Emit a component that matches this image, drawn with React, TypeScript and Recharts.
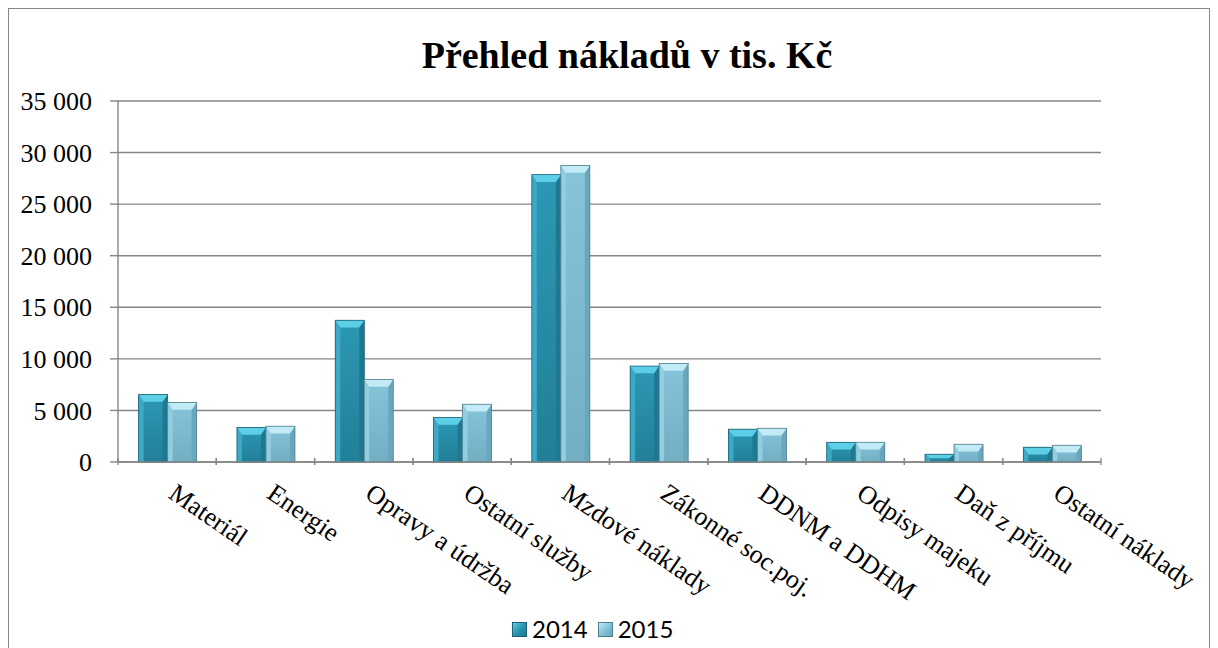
import React from "react";
import {
  BarChart,
  Bar,
  XAxis,
  YAxis,
  CartesianGrid,
} from "recharts";

const categories = [
  "Materiál",
  "Energie",
  "Opravy a údržba",
  "Ostatní služby",
  "Mzdové náklady",
  "Zákonné soc.poj.",
  "DDNM a DDHM",
  "Odpisy majeku",
  "Daň z příjmu",
  "Ostatní náklady",
];
const values2014 = [6550, 3340, 13740, 4310, 27860, 9300, 3180, 1910, 750, 1430];
const values2015 = [5770, 3470, 8000, 5600, 28740, 9560, 3270, 1910, 1720, 1620];
const yTicks = [0, 5000, 10000, 15000, 20000, 25000, 30000, 35000];

const data = categories.map((name, i) => ({
  name,
  y2014: values2014[i],
  y2015: values2015[i],
}));

const W = 1202;
const H = 643;
const plotLeft = 110;
const plotRight = 109;

const fmt = (v: number) =>
  v === 0 ? "0" : String(v).replace(/\B(?=(\d{3})+(?!\d))/g, " ");

const serif = "Liberation Serif";

type Palette = { body: string; left: string; right: string; top: string; edge: string };
const dark: Palette = {
  body: "#2A91AC",
  left: "#3AAAC6",
  right: "#1E7890",
  top: "#5CCFE6",
  edge: "#1B5F72",
};
const light: Palette = {
  body: "#82BFD5",
  left: "#94CDE0",
  right: "#6AA6BC",
  top: "#C2EBF6",
  edge: "#4E7E90",
};

function makeShape(p: Palette, id: string) {
  return (props: any) => {
    const { x, y, width, height } = props;
    if (!height || height <= 0) return <g />;
    const b = Math.min(8, height / 2, width / 4);
    const s = 5;
    return (
      <g>
        <rect x={x} y={y} width={width} height={height} fill={`url(#${id})`} />
        <polygon
          points={`${x},${y} ${x + s},${y + b} ${x + s},${y + height} ${x},${y + height}`}
          fill={p.left}
        />
        <polygon
          points={`${x + width},${y} ${x + width - s},${y + b} ${x + width - s},${y + height} ${x + width},${y + height}`}
          fill={p.right}
        />
        <polygon
          points={`${x},${y} ${x + width},${y} ${x + width - s},${y + b} ${x + s},${y + b}`}
          fill={p.top}
        />
        <rect
          x={x}
          y={y}
          width={width}
          height={height}
          fill="none"
          stroke={p.edge}
          strokeWidth={0.8}
        />
      </g>
    );
  };
}

const shape2014 = makeShape(dark, "g2014");
const shape2015 = makeShape(light, "g2015");

const bandWidth = (W - plotLeft - plotRight) / categories.length;

function XTick(props: any) {
  const { x, y, payload } = props;
  const tx = x;
  const ty = y + 33;
  return (
    <g>
      <line x1={x - bandWidth / 2} y1={y - 6} x2={x - bandWidth / 2} y2={y + 1} stroke="#868686" strokeWidth={1.3} />
      <line x1={x + bandWidth / 2} y1={y - 6} x2={x + bandWidth / 2} y2={y + 1} stroke="#868686" strokeWidth={1.3} />
      <text
        x={tx}
        y={ty}
        transform={`rotate(34.5 ${tx} ${ty})`}
        textAnchor="start"
        fontFamily={serif}
        fontSize={26}
        fill="#000"
      >
        {payload.value}
      </text>
    </g>
  );
}

function YTick(props: any) {
  const { x, y, payload } = props;
  return (
    <text
      x={x}
      y={y}
      dy="0.35em"
      textAnchor="end"
      fontFamily={serif}
      fontSize={26}
      fill="#000"
    >
      {fmt(payload.value)}
    </text>
  );
}

function Swatch({ p }: { p: Palette }) {
  return (
    <span
      style={{
        display: "inline-block",
        width: 15,
        height: 15,
        background: `linear-gradient(135deg, ${p.top}, ${p.body} 55%, ${p.right})`,
        border: `1px solid ${p.edge}`,
        boxSizing: "border-box",
        marginRight: 5,
      }}
    />
  );
}

export default function App() {
  return (
    <div
      style={{
        position: "relative",
        width: W,
        height: H,
        border: "1.5px solid #868686",
        boxSizing: "border-box",
        background: "#fff",
        fontFamily: serif,
      }}
    >
      <div
        style={{
          position: "absolute",
          top: 27,
          left: 618 - 300,
          width: 600,
          lineHeight: "38px",
          textAlign: "center",
          fontFamily: serif,
          fontWeight: "bold",
          fontSize: 38,
          color: "#000",
        }}
      >
        Přehled nákladů v tis. Kč
      </div>
      <BarChart
        width={W}
        height={H}
        data={data}
        margin={{ top: 93, right: plotRight, left: 0, bottom: 0 }}
        barCategoryGap="21%"
        barGap={0}
        style={{ position: "absolute", top: -1.5, left: -1.5 }}
      >
        <defs>
          <linearGradient id="g2014" x1="0" y1="0" x2="0" y2="1">
            <stop offset="0" stopColor="#2C98B4" />
            <stop offset="1" stopColor="#237F98" />
          </linearGradient>
          <linearGradient id="g2015" x1="0" y1="0" x2="0" y2="1">
            <stop offset="0" stopColor="#86C4DA" />
            <stop offset="1" stopColor="#73AEC3" />
          </linearGradient>
        </defs>
        <CartesianGrid vertical={false} stroke="#868686" strokeWidth={1.4} />
        <XAxis
          dataKey="name"
          interval={0}
          height={189}
          tickLine={false}
          axisLine={{ stroke: "#868686", strokeWidth: 1.4 }}
          tick={(p: any) => <XTick {...p} />}
          tickSize={0}
        />
        <YAxis
          width={plotLeft}
          domain={[0, 35000]}
          ticks={yTicks}
          interval={0}
          axisLine={{ stroke: "#868686", strokeWidth: 1.4 }}
          tickLine={{ stroke: "#868686", strokeWidth: 1.4 }}
          tickSize={8}
          tickMargin={18}
          tick={(p: any) => <YTick {...p} />}
        />
        <Bar dataKey="y2014" shape={shape2014} isAnimationActive={false} />
        <Bar dataKey="y2015" shape={shape2015} isAnimationActive={false} />
      </BarChart>
      <div
        style={{
          position: "absolute",
          top: 608,
          left: 503,
          display: "flex",
          alignItems: "center",
          fontFamily: "Lato, 'Open Sans', sans-serif",
          fontSize: 24,
          lineHeight: "24px",
          color: "#000",
          gap: 10,
        }}
      >
        <span style={{ display: "flex", alignItems: "center" }}>
          <Swatch p={dark} />
          2014
        </span>
        <span style={{ display: "flex", alignItems: "center" }}>
          <Swatch p={light} />
          2015
        </span>
      </div>
    </div>
  );
}
